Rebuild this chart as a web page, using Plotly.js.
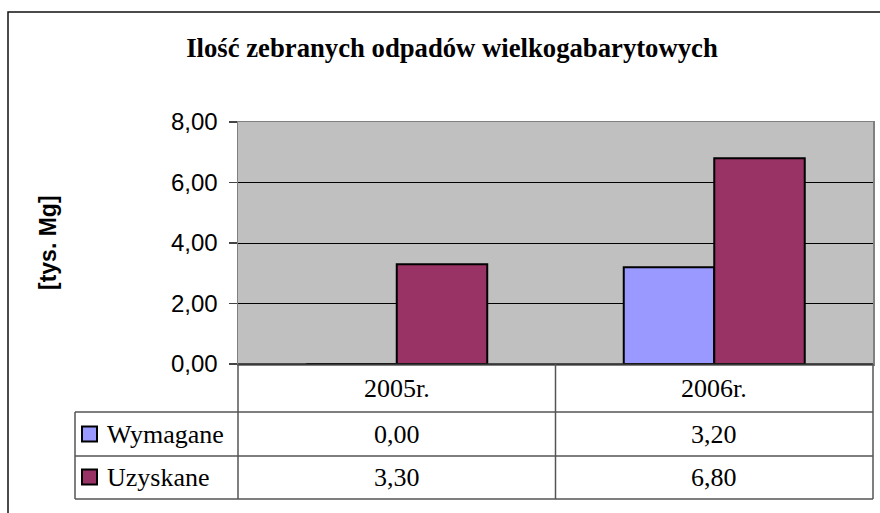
<!DOCTYPE html>
<html>
<head>
<meta charset="utf-8">
<script src="https://cdn.plot.ly/plotly-3.0.1.min.js"></script>
<style>html,body{margin:0;padding:0;background:#fff}#chart{width:880px;height:513px}</style>
</head>
<body>
<div id="chart"></div>
<script>
// ---- data ----
const categories = ["2005r.", "2006r."];
const seriesNames = ["Wymagane", "Uzyskane"];
const wymagane = [0.00, 3.20];
const uzyskane = [3.30, 6.80];
const seriesColors = ["#9999FF", "#993366"];
const yTicks = [0, 2, 4, 6, 8];
const chartTitle = "Ilość zebranych odpadów wielkogabarytowych";
const yTitle = "[tys. Mg]";

// ---- geometry helpers (pixels -> paper) ----
const W = 880, H = 513;
const L = 238, R = 873, T = 122, B = 364;
const px = x => (x - L) / (R - L);
const py = y => (B - y) / (B - T);
const fmt = v => v.toFixed(2).replace('.', ',');

const seriesValues = [wymagane, uzyskane];
const traces = seriesNames.map((name, i) => ({
  type: 'bar', name: name, x: categories, y: seriesValues[i],
  marker: {color: seriesColors[i], line: {color: '#000', width: 2}},
  hoverinfo: 'x+y'
}));

const lineStyle = {color: '#555', width: 1.5};
const shapes = [
  // outer chart border
  {type: 'rect', xref: 'paper', yref: 'paper', x0: px(8), x1: px(895), y0: py(12), y1: py(530),
   line: {color: '#111', width: 1.5}, fillcolor: 'rgba(0,0,0,0)', layer: 'below'},
  // table horizontals
  {type: 'line', xref: 'paper', yref: 'paper', x0: px(75), x1: px(R), y0: py(412), y1: py(412), line: lineStyle},
  {type: 'line', xref: 'paper', yref: 'paper', x0: px(75), x1: px(R), y0: py(456), y1: py(456), line: lineStyle},
  {type: 'line', xref: 'paper', yref: 'paper', x0: px(75), x1: px(R), y0: py(499), y1: py(499), line: lineStyle},
  {type: 'line', xref: 'paper', yref: 'paper', x0: px(L), x1: px(R), y0: py(B), y1: py(B), line: {color: '#222', width: 1.5}},
  // table verticals
  {type: 'line', xref: 'paper', yref: 'paper', x0: px(75), x1: px(75), y0: py(412), y1: py(499), line: lineStyle},
  {type: 'line', xref: 'paper', yref: 'paper', x0: px(L), x1: px(L), y0: py(B), y1: py(499), line: lineStyle},
  {type: 'line', xref: 'paper', yref: 'paper', x0: px(R), x1: px(R), y0: py(B), y1: py(499), line: lineStyle}
];
// category separators in the table
for (let i = 0; i < categories.length - 1; i++) {
  shapes.push({type: 'line', xref: 'x', yref: 'paper', x0: i + 0.5, x1: i + 0.5, y0: py(B), y1: py(499), line: lineStyle});
}

const serif = 'Liberation Serif, Times New Roman, serif';
const tableSize = 26;
const annotations = [];
// header row: categories
categories.forEach(c => annotations.push({
  xref: 'x', yref: 'paper', x: c, y: py(388), text: c, showarrow: false,
  font: {family: serif, size: tableSize, color: '#000'}, xanchor: 'center', yanchor: 'middle'
}));
const rowCenters = [434, 477];
seriesNames.forEach((name, i) => {
  annotations.push({xref: 'paper', yref: 'paper', x: px(105), y: py(rowCenters[i]), text: name, showarrow: false,
    font: {family: serif, size: tableSize, color: '#000'}, xanchor: 'left', yanchor: 'middle'});
  shapes.push({type: 'rect', xref: 'paper', yref: 'paper', x0: px(82), x1: px(97),
    y0: py(rowCenters[i] + 7.5), y1: py(rowCenters[i] - 7.5),
    fillcolor: seriesColors[i], line: {color: '#000', width: 2}});
  categories.forEach((c, j) => annotations.push({
    xref: 'x', yref: 'paper', x: c, y: py(rowCenters[i]), text: fmt(seriesValues[i][j]), showarrow: false,
    font: {family: serif, size: tableSize, color: '#000'}, xanchor: 'center', yanchor: 'middle'
  }));
});
// y axis title
annotations.push({xref: 'paper', yref: 'paper', x: px(48), y: py(242), text: '<b>' + yTitle + '</b>', textangle: -90,
  showarrow: false, font: {family: 'Liberation Sans, Arial, sans-serif', size: 23, color: '#000'},
  xanchor: 'center', yanchor: 'middle'});

const layout = {
  width: W, height: H,
  margin: {l: L, r: W - R, t: T, b: H - B, pad: 0},
  paper_bgcolor: '#fff', plot_bgcolor: '#C0C0C0',
  separators: ', ',
  showlegend: false,
  barmode: 'group', bargap: 0.43, bargroupgap: 0,
  title: {text: '<b>' + chartTitle + '</b>', xref: 'paper', x: px(452), xanchor: 'center',
    yref: 'container', y: 1 - 48 / H, yanchor: 'middle',
    font: {family: serif, size: 26.7, color: '#000'}},
  xaxis: {type: 'category', categoryorder: 'array', categoryarray: categories,
    showticklabels: false, ticks: '', showgrid: false, zeroline: false,
    showline: true, linecolor: '#808080', linewidth: 1.5, mirror: true, fixedrange: true},
  yaxis: {range: [0, 8], tickvals: yTicks, tickformat: '.2f', ticks: 'outside', ticklen: 8,
    tickcolor: '#444', tickwidth: 1.5, showgrid: true, gridcolor: '#000', gridwidth: 1,
    zeroline: false, showline: true, linecolor: '#808080', linewidth: 1.5, mirror: true,
    tickfont: {family: 'Liberation Sans, Arial, sans-serif', size: 24, color: '#000'},
    ticklabelstandoff: 6, fixedrange: true},
  shapes: shapes, annotations: annotations
};

Plotly.newPlot('chart', traces, layout, {displayModeBar: false, staticPlot: true});
</script>
</body>
</html>
